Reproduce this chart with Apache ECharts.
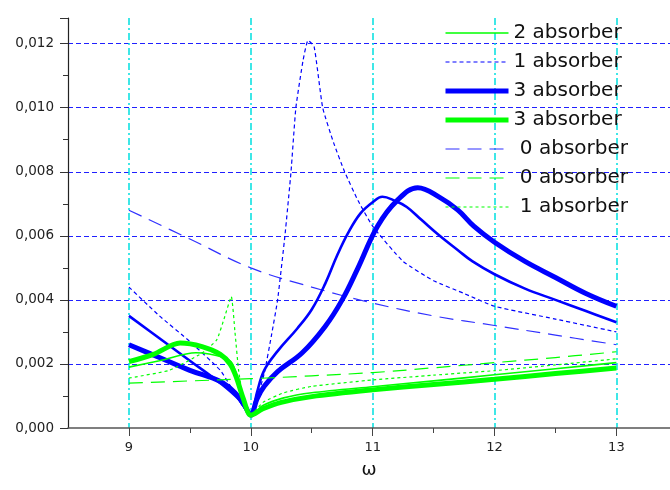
<!DOCTYPE html>
<html>
<head>
<meta charset="utf-8">
<script src="https://cdn.jsdelivr.net/npm/echarts@6/dist/echarts.min.js"></script>
<style>
  html, body { margin: 0; padding: 0; background: #fff; }
  #chart { width: 670px; height: 490px; }
</style>
</head>
<body>
<div id="chart"></div>
<script>
// omega samples and amplitudes, one pair per curve
const xTicks = [9, 10, 11, 12, 13]

const omegaBlue0 = [9, 9.5, 10, 10.5, 11, 11.5, 12, 12.5, 13]
const ampBlue0 = [0.0068, 0.0059, 0.0050, 0.0044, 0.0039, 0.0035, 0.0032, 0.0029, 0.0026]

const omegaBlue1 = [9, 9.25, 9.5, 9.75, 9.85, 9.93, 10, 10.05, 10.11, 10.17, 10.22, 10.28, 10.33, 10.37, 10.43, 10.47, 10.52, 10.59, 10.68, 10.77, 10.88, 11, 11.25, 11.5, 11.75, 12, 12.5, 13]
const ampBlue1 = [0.0044, 0.0035, 0.0027, 0.0018, 0.0012, 0.0007, 0.0004, 0.0009, 0.0017, 0.0029, 0.0040, 0.0060, 0.0080, 0.0100, 0.0115, 0.0121, 0.0119, 0.0100, 0.0089, 0.0080, 0.0071, 0.0063, 0.0052, 0.0046, 0.0042, 0.0038, 0.0034, 0.0030]

const omegaBlue2 = [9, 9.25, 9.5, 9.75, 9.9, 10, 10.05, 10.11, 10.22, 10.38, 10.5, 10.61, 10.71, 10.8, 10.9, 11, 11.08, 11.18, 11.28, 11.4, 11.55, 11.7, 11.82, 12, 12.25, 12.5, 12.75, 13]
const ampBlue2 = [0.0035, 0.0028, 0.0021, 0.0014, 0.0009, 0.0004, 0.0011, 0.0018, 0.0024, 0.0031, 0.0037, 0.0045, 0.0054, 0.0061, 0.0067, 0.00705, 0.00722, 0.0071, 0.0069, 0.0065, 0.0060, 0.00555, 0.0052, 0.0048, 0.00435, 0.0040, 0.00365, 0.0033]

const omegaBlue3 = [9, 9.25, 9.5, 9.75, 9.87, 9.95, 10, 10.05, 10.11, 10.22, 10.42, 10.61, 10.75, 10.88, 11.04, 11.2, 11.37, 11.55, 11.7, 11.83, 12, 12.25, 12.5, 12.75, 13]
const ampBlue3 = [0.0026, 0.0022, 0.0018, 0.00145, 0.0011, 0.0007, 0.0004, 0.0009, 0.0013, 0.00176, 0.00234, 0.00317, 0.0040, 0.0050, 0.0063, 0.0071, 0.0075, 0.0072, 0.0068, 0.0063, 0.0058, 0.0052, 0.0047, 0.0042, 0.0038]

const omegaGreen0 = [9, 9.5, 10, 10.5, 11, 11.5, 12, 12.5, 13]
const ampGreen0 = [0.0014, 0.00147, 0.00154, 0.00163, 0.00173, 0.00188, 0.00204, 0.0022, 0.00238]

const omegaGreen1 = [9, 9.33, 9.6, 9.72, 9.78, 9.84, 9.87, 9.9, 9.94, 10, 10.1, 10.27, 10.5, 11, 11.5, 12, 12.5, 13]
const ampGreen1 = [0.00156, 0.0018, 0.00234, 0.00275, 0.0034, 0.0041, 0.0030, 0.0018, 0.0009, 0.0004, 0.0008, 0.0011, 0.0013, 0.0015, 0.00165, 0.00179, 0.00197, 0.00216]

const omegaGreen2 = [9, 9.25, 9.55, 9.78, 9.85, 9.92, 10, 10.1, 10.27, 10.5, 11, 11.5, 12, 12.5, 13]
const ampGreen2 = [0.0019, 0.0021, 0.00235, 0.0022, 0.0020, 0.0012, 0.0004, 0.0007, 0.00094, 0.0011, 0.00129, 0.00147, 0.00166, 0.00185, 0.00204]

const omegaGreen3 = [9, 9.2, 9.42, 9.6, 9.75, 9.83, 9.88, 9.94, 10, 10.1, 10.25, 10.5, 11, 11.5, 12, 12.5, 13]
const ampGreen3 = [0.00207, 0.0023, 0.00265, 0.00254, 0.0023, 0.0020, 0.0016, 0.0009, 0.0004, 0.0006, 0.0008, 0.00098, 0.00119, 0.00136, 0.00152, 0.0017, 0.00187]

const legendNames = ['2 absorber', '1 absorber', '3 absorber', '3 absorber ', ' 0 absorber', ' 0 absorber ', ' 1 absorber']

const BLUE = '#0000ff'
const GREEN = '#00ff00'

function pairs(xs, ys) {
  return xs.map((x, i) => [x, ys[i]])
}

function line(name, xs, ys, color, width, type, smooth) {
  return {
    name: name,
    type: 'line',
    data: pairs(xs, ys),
    symbol: 'none',
    showSymbol: false,
    smooth: smooth,
    lineStyle: { color: color, width: width, type: type },
    itemStyle: { color: color },
  }
}

function buildOption() {
  return {
    animation: false,
    backgroundColor: '#fff',
    grid: { left: 68, right: 0, top: 18, bottom: 62 },
    legend: {
      data: legendNames,
      orient: 'vertical',
      left: 443,
      top: 22,
      padding: 0,
      itemWidth: 63,
      itemHeight: 14,
      itemGap: 7,
      // hide the marker dot that line series put in the middle of the icon
      itemStyle: { opacity: 0 },
      lineStyle: { width: 'inherit' },
      textStyle: { fontFamily: 'DejaVu Sans', fontSize: 20, color: '#111', lineHeight: 22 },
    },
    xAxis: {
      type: 'value',
      min: 8.5,
      max: 13.44,
      name: 'ω',
      nameLocation: 'middle',
      nameGap: 33,
      nameTextStyle: { fontFamily: 'DejaVu Sans', fontSize: 18, color: '#111' },
      axisLine: { show: true, onZero: false, lineStyle: { color: '#555', width: 1.5 } },
      axisTick: { show: true, customValues: xTicks, length: 8, lineStyle: { color: '#444' } },
      minorTick: { show: true, splitNumber: 2, length: 5, lineStyle: { color: '#444' } },
      axisLabel: { customValues: xTicks, margin: 13, fontFamily: 'DejaVu Sans', fontSize: 13, color: '#222' },
      splitLine: {
        show: true,
        lineStyle: { color: '#00e0e0', width: 1.5, type: [7, 3, 2, 3] },
      },
    },
    yAxis: {
      type: 'value',
      min: 0,
      max: 0.0128,
      interval: 0.002,
      axisLine: { show: true, onZero: false, lineStyle: { color: '#222', width: 1.2 } },
      axisTick: { show: true, length: 8, lineStyle: { color: '#333' } },
      minorTick: { show: true, splitNumber: 2, length: 5, lineStyle: { color: '#333' } },
      axisLabel: {
        margin: 14,
        showMaxLabel: false,
        fontFamily: 'DejaVu Sans',
        fontSize: 13.5,
        color: '#222',
        formatter: (v) => v.toFixed(3).replace('.', ','),
      },
      splitLine: {
        show: true,
        showMinLine: false,
        showMaxLine: false,
        lineStyle: { color: '#2020ff', width: 1, type: [5, 3] },
      },
    },
    series: [
      line(' 0 absorber', omegaBlue0, ampBlue0, '#3030ff', 1.2, [14, 8], 0.4),
      line('1 absorber', omegaBlue1, ampBlue1, BLUE, 1.2, [4, 3], 0.15),
      line('2 absorber  ', omegaBlue2, ampBlue2, BLUE, 2.6, 'solid', 0.4),
      line('3 absorber', omegaBlue3, ampBlue3, BLUE, 5, 'solid', 0.4),
      line(' 0 absorber ', omegaGreen0, ampGreen0, GREEN, 1.2, [14, 8], 0.4),
      line(' 1 absorber', omegaGreen1, ampGreen1, GREEN, 1.2, [3, 3], 0.15),
      line('2 absorber', omegaGreen2, ampGreen2, GREEN, 1.6, 'solid', 0.3),
      line('3 absorber ', omegaGreen3, ampGreen3, GREEN, 5, 'solid', 0.3),
    ],
  }
}

const chart = echarts.init(document.getElementById('chart'))
chart.setOption(buildOption())
</script>
</body>
</html>
